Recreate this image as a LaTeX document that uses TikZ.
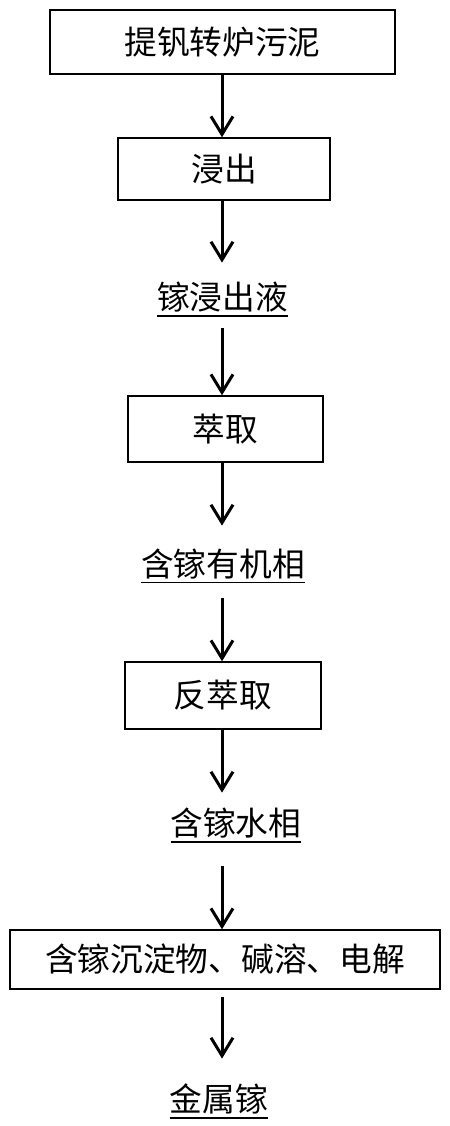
\documentclass[tikz,border=0pt]{standalone}
\usepackage{fontspec}
\usetikzlibrary{arrows.meta}
\newfontfamily\cjk{Noto Sans CJK SC}
\newcommand{\flowfont}{\cjk\fontsize{16.35pt}{20pt}\selectfont}
\newsavebox{\ulbox}
\newcommand{\ulined}[1]{\sbox{\ulbox}{#1}\rlap{\rule[-3.6pt]{\wd\ulbox}{0.75pt}}\usebox{\ulbox}}

\begin{document}
\begin{tikzpicture}[x=0.5pt, y=-0.5pt,
    stepbox/.style={draw, line width=0.75pt, inner sep=0pt, font=\flowfont},
    phase/.style={inner sep=0pt, anchor=base, text height=15pt, text depth=4pt, font=\flowfont},
    flow/.style={line width=1.5pt, -{Straight Barb[length=9pt, width=11pt]}}]
    \useasboundingbox (0,0) rectangle (450,1126);

    % Process steps and intermediate products
    \node[stepbox, minimum width=172.5pt, minimum height=32pt] (sludge) at (222.5,42) {提钒转炉污泥};
    \node[stepbox, minimum width=106pt, minimum height=31pt] (leach) at (224,169) {浸出};
    \node[phase] (leachate) at (222.5,309.5) {\ulined{镓浸出液}};
    \node[stepbox, minimum width=97.5pt, minimum height=33pt] (extract) at (225.5,429) {萃取};
    \node[phase] (organic) at (223,576) {\ulined{含镓有机相}};
    \node[stepbox, minimum width=98pt, minimum height=33.5pt] (strip) at (223,695.5) {反萃取};
    \node[phase] (aqueous) at (236,835.5) {\ulined{含镓水相}};
    \node[stepbox, minimum width=215pt, minimum height=29.5pt] (electro) at (225,959.5) {含镓沉淀物、碱溶、电解};
    \node[phase] (gallium) at (219,1111.5) {\ulined{金属镓}};

    % Arrows
    \coordinate (axis) at (222,0);
    \draw[flow] (sludge.south -| axis) -- (leach.north -| axis);
    \draw[flow, shorten >=8.25pt] (leach.south -| axis) -- (leachate.north -| axis);
    \draw[flow, shorten <=5.25pt] (leachate.south -| axis) -- (extract.north -| axis);
    \draw[flow, shorten >=10pt] (extract.south -| axis) -- (organic.north -| axis);
    \draw[flow, shorten <=7pt] (organic.south -| axis) -- (strip.north -| axis);
    \draw[flow, shorten >=6.25pt] (strip.south -| axis) -- (aqueous.north -| axis);
    \draw[flow, shorten <=11.25pt] (aqueous.south -| axis) -- (electro.north -| axis);
    \draw[flow, shorten <=3.5pt, shorten >=11.25pt] (electro.south -| axis) -- (gallium.north -| axis);
\end{tikzpicture}
\end{document}
